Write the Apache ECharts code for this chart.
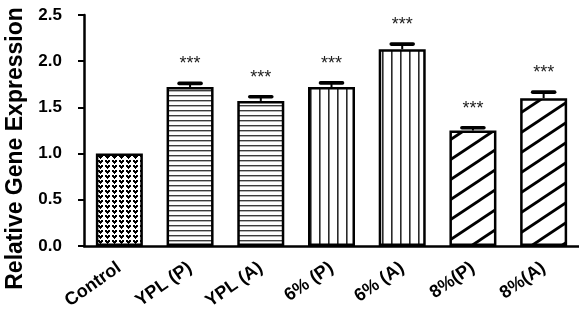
<!DOCTYPE html>
<html>
<head>
<meta charset="utf-8">
<script src="https://cdn.jsdelivr.net/npm/echarts@6/dist/echarts.min.js"></script>
<style>
  html, body { margin: 0; padding: 0; background: #fff; }
  #chart { width: 579px; height: 326px; }
</style>
</head>
<body>
<div id="chart"></div>
<script>
// Groups on the x axis
const categories = ['Control', 'YPL (P)', 'YPL (A)', '6% (P)', '6% (A)', '8%(P)', '8%(A)'];
// Mean relative expression per group
const means = [1.00, 1.72, 1.57, 1.72, 2.13, 1.25, 1.60];
// Standard error (upper whisker only)
const errors = [0.00, 0.04, 0.045, 0.045, 0.055, 0.03, 0.065];
// Significance marks versus control
const significance = ['', '***', '***', '***', '***', '***', '***'];
// Y axis ticks
const yTicks = [0.0, 0.5, 1.0, 1.5, 2.0, 2.5];

const FONT = 'Arial, "Liberation Sans", sans-serif';

// --- fill patterns -------------------------------------------------------
function makeTile(w, h, draw) {
  const c = document.createElement('canvas');
  c.width = w; c.height = h;
  const ctx = c.getContext('2d');
  ctx.fillStyle = '#fff';
  ctx.fillRect(0, 0, w, h);
  draw(ctx, w, h);
  return { image: c, repeat: 'repeat' };
}

// small heart/chevron stipple
const stipple = makeTile(7, 5, (ctx) => {
  const rows = [
    'XX.XX..',
    'XXXXX..',
    '.XXX...',
    '..X....',
    '.......'
  ];
  ctx.fillStyle = '#000';
  rows.forEach((r, y) => {
    for (let x = 0; x < r.length; x++) if (r[x] === 'X') ctx.fillRect(x, y, 1, 1);
  });
});

// horizontal rules
const hLines = makeTile(4, 5, (ctx, w) => {
  ctx.fillStyle = '#3c3c3c';
  ctx.fillRect(0, 0, w, 1.4);
});

// vertical rules
const vLines = makeTile(9, 4, (ctx, w, h) => {
  ctx.fillStyle = '#2a2a2a';
  ctx.fillRect(4, 0, 1.6, h);
});

// forward diagonal hatch
const diag = makeTile(30, 20, (ctx) => {
  ctx.strokeStyle = '#000';
  ctx.lineWidth = 2.8;
  [-20, 0, 20].forEach((k) => {
    ctx.beginPath();
    ctx.moveTo(-3, 20 + k + 2);
    ctx.lineTo(33, k - 2);
    ctx.stroke();
  });
});

const fills = [stipple, hLines, hLines, vLines, vLines, diag, diag];

// --- chart ---------------------------------------------------------------
const chart = echarts.init(document.getElementById('chart'), null, { renderer: 'canvas' });

chart.setOption({
  animation: false,
  backgroundColor: '#fff',
  grid: { left: 84, top: 15, bottom: 80, width: 495, containLabel: false, outerBoundsMode: 'none' },
  xAxis: {
    type: 'category',
    data: categories,
    axisLine: { lineStyle: { color: '#000', width: 2.5 } },
    axisTick: { alignWithLabel: true, length: 6, lineStyle: { color: '#000', width: 2 } },
    axisLabel: {
      interval: 0,
      rotate: 35,
      margin: 20,
      color: '#000',
      fontFamily: FONT,
      fontWeight: 'bold',
      fontSize: 18
    }
  },
  yAxis: {
    type: 'value',
    min: yTicks[0],
    max: yTicks[yTicks.length - 1],
    interval: 0.5,
    name: 'Relative Gene Expression',
    nameLocation: 'middle',
    nameGap: 53,
    nameTextStyle: {
      color: '#000',
      fontFamily: FONT,
      fontWeight: 'bold',
      fontSize: 23,
      padding: [0, 36, 0, 0]
    },
    axisLine: { show: true, lineStyle: { color: '#000', width: 2.5 } },
    axisTick: { show: true, length: 6, lineStyle: { color: '#000', width: 2 } },
    splitLine: { show: false },
    axisLabel: {
      margin: 22,
      color: '#000',
      fontFamily: FONT,
      fontWeight: 'bold',
      fontSize: 17,
      formatter: (v) => v.toFixed(1)
    }
  },
  series: [
    {
      type: 'bar',
      barWidth: 47,
      data: means.map((v, i) => ({
        value: v,
        itemStyle: { color: fills[i], borderColor: '#000', borderWidth: 2.5 }
      })),
      z: 2
    },
    {
      type: 'custom',
      z: 3,
      data: means.map((v, i) => [i, v, errors[i]]),
      renderItem: (params, api) => {
        const i = api.value(0);
        const v = api.value(1);
        const e = api.value(2);
        const children = [];
        const base = api.coord([i, v]);
        const top = api.coord([i, v + e]);
        if (e > 0) {
          children.push({
            type: 'line',
            shape: { x1: base[0], y1: base[1], x2: top[0], y2: top[1] },
            style: { stroke: '#000', lineWidth: 2 }
          });
          children.push({
            type: 'line',
            shape: { x1: top[0] - 11, y1: top[1], x2: top[0] + 11, y2: top[1] },
            style: { stroke: '#000', lineWidth: 3.6, lineCap: 'round' }
          });
        }
        const mark = significance[params.dataIndex];
        if (mark) {
          children.push({
            type: 'text',
            x: top[0],
            y: top[1] - 19,
            style: {
              text: mark,
              fill: '#222',
              font: '18px ' + FONT,
              align: 'center',
              verticalAlign: 'middle'
            }
          });
        }
        return { type: 'group', children };
      }
    }
  ]
});
</script>
</body>
</html>
